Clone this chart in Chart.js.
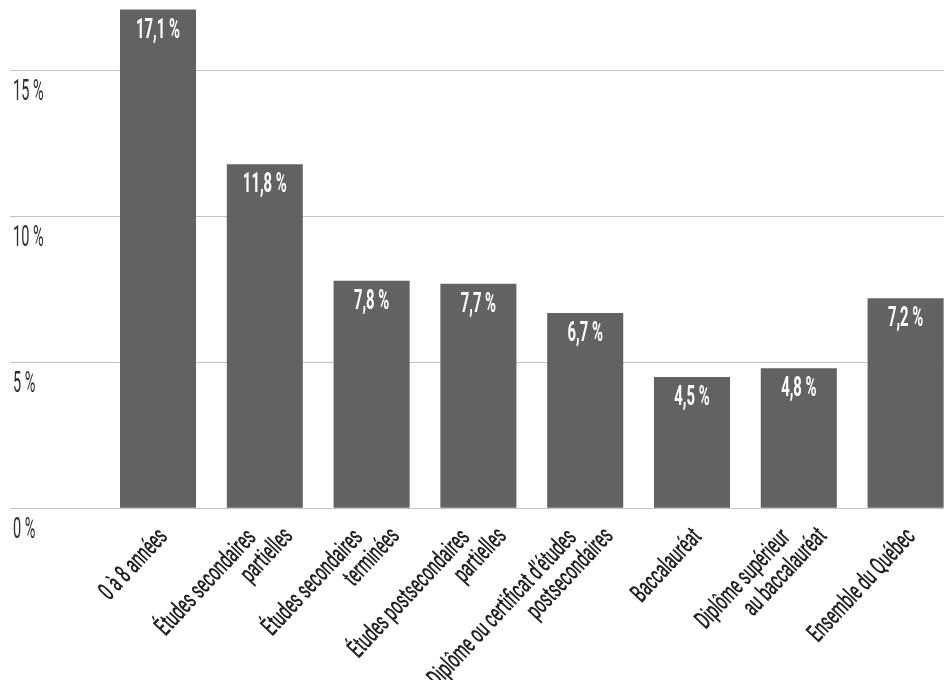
<!DOCTYPE html>
<html lang="fr">
<head>
  <meta charset="UTF-8">
  <title>Taux selon la scolarité</title>
  <script src="https://cdn.jsdelivr.net/npm/chart.js"></script>
  <style>
    html, body { margin: 0; padding: 0; overflow: hidden; background: #fff; }
    .chart-container { position: relative; width: 960px; height: 680px; }
  </style>
</head>
<body>
  <div class="chart-container">
    <canvas id="chartScolarite"></canvas>
  </div>

  <script>
    const categories = [
      '0 à 8 années',
      ['Études secondaires', 'partielles'],
      ['Études secondaires', 'terminées'],
      ['Études postsecondaires', 'partielles'],
      ['Diplôme ou certificat d’études', 'postsecondaires'],
      'Baccalauréat',
      ['Diplôme supérieur', 'au baccalauréat'],
      'Ensemble du Québec'
    ];
    const rates = [17.1, 11.8, 7.8, 7.7, 6.7, 4.5, 4.8, 7.2];
    const yTicks = [0, 5, 10, 15];

    const FONT = 'Roboto, sans-serif';
    const ANGLE = 47 * Math.PI / 180;
    const frPct = v => v.toFixed(1).replace('.', ',') + ' %';

    // narrow gothic look: squeeze the glyphs horizontally
    const condensedText = (ctx, text, x, y, sx, angle = 0) => {
      ctx.save();
      ctx.translate(x, y);
      if (angle) ctx.rotate(-angle);
      ctx.scale(sx, 1);
      ctx.fillText(text, 0, 0);
      ctx.restore();
    };

    const textLayer = {
      id: 'textLayer',
      afterDatasetsDraw(chart) {
        const ctx = chart.ctx;
        const xScale = chart.scales.x;
        const yScale = chart.scales.y;
        ctx.save();

        // value inside the top of each bar
        ctx.font = `bold 28px ${FONT}`;
        ctx.fillStyle = '#ffffff';
        ctx.textAlign = 'center';
        ctx.textBaseline = 'middle';
        chart.getDatasetMeta(0).data.forEach((bar, i) => {
          condensedText(ctx, frPct(rates[i]), bar.x, bar.y + 21, 0.53);
        });

        // y tick labels sit under their grid line
        ctx.font = `29px ${FONT}`;
        ctx.fillStyle = '#2e2e2e';
        ctx.textAlign = 'left';
        yTicks.forEach(v => {
          condensedText(ctx, v + ' %', 13, yScale.getPixelForValue(v) + 22, 0.5);
        });

        // slanted category labels, extra lines step down and to the right
        ctx.font = `500 26px ${FONT}`;
        ctx.fillStyle = '#222222';
        ctx.textAlign = 'right';
        categories.forEach((label, i) => {
          const lines = Array.isArray(label) ? label : [label];
          const x0 = xScale.getPixelForValue(i) + 6;
          const y0 = xScale.top + 25;
          lines.forEach((line, k) => {
            const step = (k - (lines.length - 1) / 2) * 26;
            const dx = step * Math.cos(ANGLE) + step * Math.sin(ANGLE);
            const dy = -step * Math.sin(ANGLE) + step * Math.cos(ANGLE);
            condensedText(ctx, line, x0 + dx, y0 + dy, 0.59, ANGLE);
          });
        });

        ctx.restore();
      }
    };

    const ctx = document.getElementById('chartScolarite').getContext('2d');
    new Chart(ctx, {
      type: 'bar',
      data: {
        labels: categories,
        datasets: [{
          data: rates,
          backgroundColor: '#626264',
          categoryPercentage: 1,
          barPercentage: 0.712
        }]
      },
      options: {
        responsive: true,
        maintainAspectRatio: false,
        animation: false,
        layout: { padding: { left: 13, right: 1, top: 0, bottom: 0 } },
        plugins: {
          legend: { display: false },
          tooltip: { enabled: false }
        },
        scales: {
          x: {
            grid: { display: false },
            border: { display: false },
            ticks: { display: false },
            afterFit(scale) {
              scale.height = 680 - 508.3;
              scale.paddingLeft = scale.paddingRight = 0;
            }
          },
          y: {
            min: 0,
            max: 17.43,
            afterBuildTicks(scale) { scale.ticks = yTicks.map(v => ({ value: v })); },
            border: { display: false },
            grid: { color: '#c2c2c2', lineWidth: 1, tickLength: 94.6 },
            ticks: { display: false },
            afterFit(scale) {
              scale.width = 91.6;
              scale.paddingTop = scale.paddingBottom = 0;
            }
          }
        }
      },
      plugins: [textLayer]
    });
  </script>
</body>
</html>
